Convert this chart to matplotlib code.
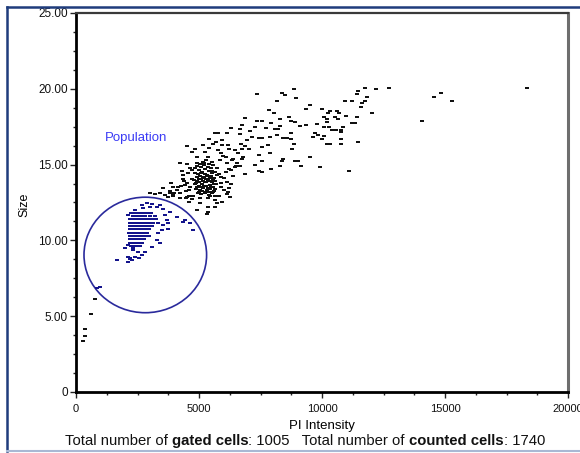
import numpy as np
import matplotlib
matplotlib.use("Agg")
import matplotlib.pyplot as plt
from matplotlib.path import Path
from matplotlib.patches import Ellipse
from matplotlib.lines import Line2D
from matplotlib.offsetbox import TextArea, HPacker, AnchoredOffsetbox
from matplotlib.ticker import MultipleLocator, FixedLocator, FixedFormatter

plt.rcParams['font.family'] = ['Liberation Sans', 'DejaVu Sans']

# ---- data: (PI intensity, size) per cell ----
# sparse upper tail
tail_pi = [8874, 7345, 8362, 8496, 8931, 8158, 11760, 12183, 12736, 11475, 11410, 11817,
           10923, 11219, 11748, 11626, 9500, 9350, 10000, 11597, 10325, 10597, 7845, 8061,
           12045, 10963, 10256, 10691, 10081, 10541, 10662, 11410, 6870, 8293, 8646, 8728,
           8915, 10191, 10191, 14053, 7573, 7345, 7927, 11207, 11354, 6736, 8293, 9118,
           9350, 9809, 10081, 10272, 10841, 7276, 7724, 6313, 6654, 10394, 10569, 10772,
           10772, 8077, 8211, 7073, 8740, 9703, 9825, 6667, 8158, 9646, 10069, 8565,
           8427, 7886, 7561, 7439, 7142, 6939, 8728, 9988, 10760, 11475, 6719, 8874,
           10191, 10325, 10760, 6882, 7573, 7793, 6451, 7020, 6736, 8780, 6573, 7439,
           7874, 9500, 6801, 6394, 6736, 8427, 7573, 8362, 8902, 9036, 7289, 8293,
           9146, 6492, 6667, 7927, 9906, 7439, 7561, 6301, 6870, 11110, 18345, 14825,
           14541, 15284]
tail_size = [19.99, 19.64, 19.74, 19.61, 19.37, 19.22, 20.07, 19.99, 20.07, 19.85, 19.66, 19.44,
             19.18, 19.18, 19.22, 19.08, 18.91, 18.69, 18.69, 18.78, 18.54, 18.54, 18.60, 18.38,
             18.38, 18.21, 18.38, 18.38, 18.12, 18.12, 18.03, 18.12, 18.05, 17.99, 18.12, 17.90,
             17.81, 17.99, 17.81, 17.90, 17.90, 17.88, 17.76, 17.76, 17.76, 17.59, 17.55, 17.53,
             17.61, 17.70, 17.50, 17.50, 17.50, 17.50, 17.43, 17.43, 17.37, 17.28, 17.28, 17.28,
             17.18, 17.35, 17.35, 17.22, 17.06, 17.10, 16.97, 17.02, 16.95, 16.80, 16.89, 16.77,
             16.75, 16.82, 16.75, 16.75, 16.84, 16.62, 16.67, 16.67, 16.67, 16.51, 16.36, 16.36,
             16.36, 16.36, 16.36, 16.23, 16.14, 16.27, 15.96, 16.05, 16.01, 16.01, 15.75, 15.65,
             15.75, 15.52, 15.52, 15.35, 15.35, 15.35, 15.22, 15.22, 15.22, 15.22, 14.95, 14.91,
             14.91, 14.91, 14.91, 14.73, 14.82, 14.60, 14.53, 14.64, 14.36, 14.60, 20.07, 19.74,
             19.48, 19.22]

# cells around the main cluster
mid_pi = [5638, 5784, 6126, 5557, 5923, 6167, 5419, 5772, 4500, 4703, 5244, 5882,
          4906, 5378, 5988, 4228, 4906, 5175, 5516, 6126, 6638, 4634, 5720, 6098,
          4362, 5894, 6126, 3850, 4158, 4524, 5894, 6232, 3549, 3821, 4228, 4472,
          5650, 6126, 3752, 3955, 4472, 4606, 5041, 5378, 5720, 4906, 5313, 3008,
          3211, 3415, 3618, 3821, 3955, 4228, 4500, 4703, 5041, 5378, 5650, 6191,
          6260, 5923, 5650, 5378, 6463,
          4350, 4450, 4550, 4600, 4400, 4250, 4100, 4700, 4500, 4300, 3950, 4000, 4600,
          5800, 5900, 6000, 6200, 6350, 6100, 5850, 6300, 6000, 5800, 6400, 6550,
          5950, 6200, 5700, 5400, 5150, 4850,
          610, 366, 366, 298, 772]
mid_size = [17.06, 17.06, 17.06, 16.36, 16.29, 16.29, 16.08, 15.96, 16.23, 15.85, 15.85, 15.75,
            15.52, 15.52, 15.57, 15.09, 15.13, 15.09, 15.19, 15.09, 14.91, 14.76, 14.76, 14.53,
            14.31, 14.16, 13.87, 13.77, 13.54, 13.81, 13.54, 13.44, 13.44, 13.28, 13.11, 13.26,
            12.93, 13.06, 12.88, 12.97, 12.78, 12.55, 12.45, 12.22, 12.45, 12.01, 11.74, 13.11,
            13.04, 13.11, 12.99, 13.11, 12.93, 12.78, 12.84, 12.71, 12.78, 12.78, 12.66, 13.21,
            12.88, 12.55, 12.22, 11.89, 14.86,
            14.05, 13.65, 14.45, 13.35, 13.95, 13.60, 13.30, 14.65, 15.05, 14.60, 13.55, 13.15, 12.95,
            14.40, 13.80, 14.10, 14.70, 15.30, 15.50, 15.30, 13.70, 13.30, 12.95, 14.25, 15.10,
            16.60, 16.00, 16.50, 16.70, 16.30, 16.00,
            5.15, 4.18, 3.69, 3.38, 6.11]

# dense core of the main cluster
core_pi = [4850, 4980, 5120, 5260, 5400, 5530, 4900, 5050, 5200, 5340, 5480, 5620,
           4780, 4930, 5080, 5230, 5370, 5510, 5660, 4840, 4990, 5140, 5290, 5430, 5580,
           4880, 5030, 5180, 5320, 5460, 5600, 4950, 5100, 5250, 5390, 5540,
           4920, 5070, 5210, 5350, 5490, 5150, 5300, 4700, 4650, 5700, 5750, 4760, 5450,
           4820, 4960, 5100, 5240, 5380, 5520, 5660, 4870, 5010, 5160, 5300, 5450, 5600,
           4900, 5050, 5200, 5350, 5500, 5640, 4980, 5130, 5280, 5420, 5570,
           5000, 5150, 5300, 5440, 5580, 5060, 5200, 5400, 5550]
core_size = [14.45, 14.62, 14.50, 14.70, 14.55, 14.42, 14.20, 14.28, 14.15, 14.33, 14.22, 14.10,
             13.98, 13.92, 14.02, 13.88, 13.97, 13.85, 13.95, 13.70, 13.62, 13.75, 13.60, 13.68, 13.55,
             13.40, 13.33, 13.45, 13.30, 13.42, 13.28, 13.10, 13.05, 13.15, 13.02, 13.12,
             14.90, 14.82, 14.95, 14.85, 14.78, 15.20, 15.30, 14.05, 13.55, 13.70, 14.30, 12.95, 12.90,
             14.75, 14.35, 14.42, 14.40, 14.25, 14.60, 14.50, 13.80, 13.85, 13.95, 13.82, 13.90, 13.75,
             13.55, 13.50, 13.58, 13.48, 13.52, 13.40, 13.20, 13.25, 13.22, 13.18, 13.20,
             14.08, 14.12, 14.05, 14.10, 14.00, 15.05, 15.10, 15.02, 14.95]

# small-cell population (sparse part)
small_pi = [2670, 2873, 3077, 2736, 3008, 3280, 3415, 3549, 2398, 2126, 3618, 3687,
            3346, 3549, 3752, 3484, 3752, 3346, 3280, 3415, 3077, 1992, 2329, 2533,
            2805, 2670, 2398, 2574, 2264, 1654, 2126, 4634, 4768, 4093, 3821, 4431,
            2126, 2195, 841, 976, 4362, 2126, 2329, 2195,
            2230, 2400, 2560, 2720, 2880, 3050, 2300, 2480, 2650, 2820, 3000, 3200]
small_size = [12.34, 12.45, 12.40, 12.12, 12.18, 12.22, 12.34, 12.05, 12.01, 11.68, 11.68, 11.35,
              11.13, 11.02, 11.13, 10.69, 10.73, 10.47, 10.03, 9.81, 9.58, 9.48, 9.37, 9.25,
              9.25, 9.04, 8.93, 8.82, 8.71, 8.71, 8.60, 11.13, 10.69, 11.56, 11.89, 11.35,
              8.88, 8.75, 6.84, 6.90, 11.23, 9.70, 9.48, 8.82,
              11.78, 11.78, 11.78, 11.78, 11.78, 11.78, 11.62, 11.62, 11.62, 11.62, 11.62, 11.62]

# small-cell population (dense rows, size is quantised)
row_size = [11.39, 11.17, 10.95, 10.73, 10.51, 10.29, 10.07, 9.85, 9.63]
row_pi = [
    [2200, 2320, 2440, 2560, 2680, 2800, 2920, 3040, 3160, 3250],
    [2200, 2320, 2440, 2560, 2680, 2800, 2920, 3040, 3150],
    [2200, 2320, 2440, 2560, 2680, 2800, 2920, 3040, 3100],
    [2200, 2320, 2440, 2560, 2680, 2800, 2920, 2980],
    [2170, 2290, 2410, 2530, 2650, 2770, 2900],
    [2200, 2320, 2440, 2560, 2680, 2800, 2920, 2980],
    [2200, 2320, 2440, 2560, 2680, 2780],
    [2200, 2320, 2440, 2560, 2700],
    [2250, 2380, 2500, 2600],
]

# gate (ellipse) in data units
gate_center = (2817, 9.04)
gate_width = 2 * 2492
gate_height = 2 * 3.81

x_ticks = [0, 5000, 10000, 15000, 20000]
x_labels = ['0', '5000', '10000', '15000', '20000']
y_ticks = [0, 5, 10, 15, 20, 25]
y_labels = ['0', '5.00', '10.00', '15.00', '20.00', '25.00']

gated_total = 1005
counted_total = 1740

# ---- assemble ----
xs = np.array(tail_pi + mid_pi + core_pi + small_pi
              + [v for r in row_pi for v in r], dtype=float)
ys = np.array(tail_size + mid_size + core_size + small_size
              + [s for s, r in zip(row_size, row_pi) for _ in r], dtype=float)

cx, cy = gate_center
inside = ((xs - cx) / (gate_width / 2)) ** 2 + ((ys - cy) / (gate_height / 2)) ** 2 <= 1.0

fig = plt.figure(figsize=(5.8, 4.53), dpi=100)
ax = fig.add_axes([76 / 580, 1 - 392 / 453, 492 / 580, 379 / 453])

dash = Path([(-1, -0.34), (1, -0.34), (1, 0.34), (-1, 0.34), (-1, -0.34)],
            [Path.MOVETO, Path.LINETO, Path.LINETO, Path.LINETO, Path.CLOSEPOLY])

ax.plot(xs[~inside], ys[~inside], ls='none', marker=dash, ms=2.4, mew=0,
        color='#111111')
ax.plot(xs[inside], ys[inside], ls='none', marker=dash, ms=2.4, mew=0,
        color='#14148c')

ax.add_patch(Ellipse(gate_center, gate_width, gate_height, fill=False,
                     ec='#2a2a9c', lw=1.2))
ax.text(1180, 16.75, 'Population', color='#3b3bf5', fontsize=9.5,
        ha='left', va='center')

ax.set_xlim(0, 20000)
ax.set_ylim(0, 25)
ax.xaxis.set_major_locator(FixedLocator(x_ticks))
ax.xaxis.set_major_formatter(FixedFormatter(x_labels))
ax.yaxis.set_major_locator(FixedLocator(y_ticks))
ax.yaxis.set_major_formatter(FixedFormatter(y_labels))
ax.xaxis.set_minor_locator(MultipleLocator(1250))
ax.yaxis.set_minor_locator(MultipleLocator(1.25))

ax.tick_params(axis='both', which='major', direction='out', length=4.5, width=1,
               color='#222222', labelcolor='#111111')
ax.tick_params(axis='both', which='minor', direction='out', length=2.5, width=1,
               color='#222222')
ax.tick_params(axis='x', labelsize=8, pad=4)
ax.tick_params(axis='y', labelsize=8.5, pad=1.5)

for side in ('left', 'bottom'):
    ax.spines[side].set_linewidth(2)
    ax.spines[side].set_color('#000000')
ax.spines['top'].set_linewidth(1.6)
ax.spines['top'].set_color('#3a3a3a')
ax.spines['right'].set_linewidth(2.2)
ax.spines['right'].set_color('#6e6e6e')

ax.set_xlabel('PI Intensity', fontsize=9.5)
ax.xaxis.set_label_coords(0.5, -(420 - 392) / 379)
ax.set_ylabel('Size', fontsize=9)
ax.yaxis.set_label_coords(-(76 - 30) / 492, (392 - 205) / 379)

# summary line with bold keywords
parts = [('Total number of ', 'normal'), ('gated cells', 'bold'),
         (f': {gated_total}   Total number of ', 'normal'),
         ('counted cells', 'bold'), (f': {counted_total}', 'normal')]
areas = [TextArea(t, textprops=dict(fontsize=10.7, fontweight=w, color='#111111'))
         for t, w in parts]
box = HPacker(children=areas, align='baseline', pad=0, sep=0)
anchored = AnchoredOffsetbox(loc='center', child=box, frameon=False, pad=0,
                             borderpad=0,
                             bbox_to_anchor=(305 / 580, 1 - 441 / 453),
                             bbox_transform=fig.transFigure)
fig.add_artist(anchored)

# window frame
fig.add_artist(Line2D([7 / 580, 1.0], [1 - 7 / 453, 1 - 7 / 453],
                      transform=fig.transFigure, color='#1f3c7c', lw=1.8))
fig.add_artist(Line2D([7 / 580, 7 / 580], [1 - 7 / 453, 1 - 451 / 453],
                      transform=fig.transFigure, color='#1f3c7c', lw=1.8))
fig.add_artist(Line2D([7 / 580, 1.0], [1 - 451 / 453, 1 - 451 / 453],
                      transform=fig.transFigure, color='#a9b8d4', lw=1.5))

fig.savefig('out.png', dpi=100)
